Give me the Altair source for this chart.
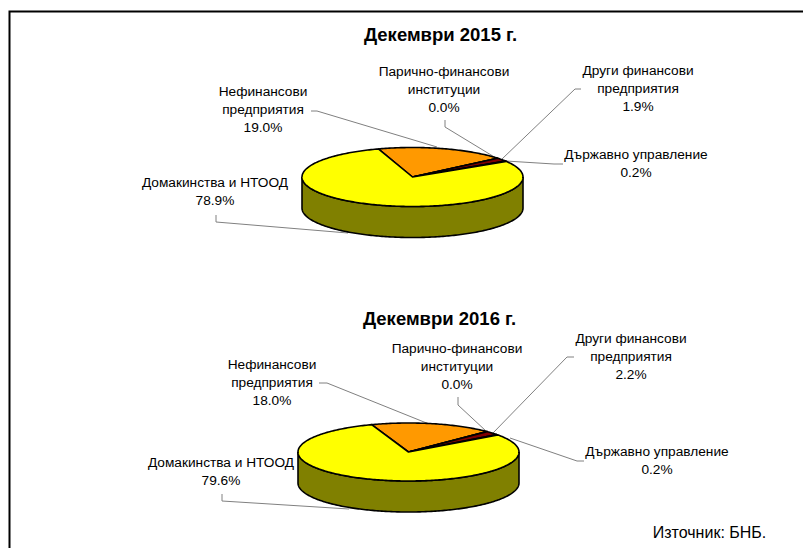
import math
import altair as alt
import pandas as pd

CATEGORIES = ["Нефинансови предприятия", "Парично-финансови институции",
              "Други финансови предприятия", "Държавно управление", "Домакинства и НТООД"]
SHARES_2015 = [19.0, 0.0, 1.9, 0.2, 78.9]
SHARES_2016 = [18.0, 0.0, 2.2, 0.2, 79.6]
COLORS = ["#FF9900", "#000080", "#800000", "#000000", "#FFFF00"]
SIDE = "#808000"
LABELS = ["Нефинансови\nпредприятия\n{}%", "Парично-финансови\nинституции\n{}%",
          "Други финансови\nпредприятия\n{}%", "Държавно управление\n{}%",
          "Домакинства и НТООД\n{}%"]

OX, OY = 8, 8  # page margin

PIES = [
    dict(title="Декември 2015 г.", shares=SHARES_2015, cx=412.5, cy=177, rx=110.5, ry=29.5, depth=31, start=-18,
         title_xy=(440.5, 34.5),
         label_xy=[(263, 92), (444, 72), (638, 71), (636, 155), (215, 183)],
         leaders=[[(311, 111), (317, 111), (437, 147)],
                  [(445, 120), (445, 127), (496, 158)],
                  [(581, 89), (575, 89), (502, 159)],
                  [(563, 164), (554, 164), (506, 161)],
                  [(216, 215), (216, 222), (348, 233)]]),
    dict(title="Декември 2016 г.", shares=SHARES_2016, cx=408.5, cy=452, rx=110.5, ry=29, depth=31, start=-19.5,
         title_xy=(439.5, 318.5),
         label_xy=[(272, 365), (457, 349), (631, 339), (657, 452), (221, 463)],
         leaders=[[(319, 383), (327, 383), (429, 424)],
                  [(458, 397), (458, 405), (486, 431)],
                  [(574, 357), (567, 357), (493, 433)],
                  [(584, 461), (577, 461), (510, 438)],
                  [(222, 494), (222, 501), (349, 509)]]),
]


def rim(p, deg, dy=0):
    a = math.radians(deg)
    return [p["cx"] + p["rx"] * math.sin(a) - OX, p["cy"] - p["ry"] * math.cos(a) + dy - OY]


def poly(points, **props):
    return {"type": "Feature", "properties": props,
            "geometry": {"type": "Polygon", "coordinates": [points + [points[0]]]}}


def path(points):
    return {"type": "Feature", "properties": {},
            "geometry": {"type": "LineString",
                         "coordinates": [[x - OX, y - OY] for x, y in points]}}


side_feats, slice_feats, leader_feats, text_rows = [], [], [], []
for p in PIES:
    top = [rim(p, d) for d in range(90, 271)]
    bottom = [rim(p, d, p["depth"]) for d in range(270, 89, -1)]
    side_feats.append(poly(top + bottom))
    angle = p["start"]
    for name, share in zip(CATEGORIES, p["shares"]):
        end = angle + share * 3.6
        n = max(2, int(abs(end - angle)) + 2)
        arc = [rim(p, angle + (end - angle) * i / (n - 1)) for i in range(n)]
        slice_feats.append(poly([[p["cx"] - OX, p["cy"] - OY]] + arc, slice=name))
        angle = end
    leader_feats += [path(l) for l in p["leaders"]]
    for tmpl, share, (x, y) in zip(LABELS, p["shares"], p["label_xy"]):
        text_rows.append({"lon": x - OX, "lat": y - OY, "t": tmpl.format(f"{share:.1f}")})

titles = pd.DataFrame([{"lon": p["title_xy"][0] - OX, "lat": p["title_xy"][1] - OY, "t": p["title"]} for p in PIES])
source = pd.DataFrame([{"lon": 709.5 - OX, "lat": 532.5 - OY, "t": "Източник: БНБ."}])
labels = pd.DataFrame(text_rows)
frame = [path([(9.5, 548), (9.5, 11.5), (803, 11.5)])]

PROJ = dict(type="identity", scale=1, translate=[0, 0])
FONT = "Liberation Sans"

side = alt.Chart(alt.Data(values=side_feats)).mark_geoshape(fill=SIDE, stroke="black", strokeWidth=1.6).project(**PROJ)
slices = alt.Chart(alt.Data(values=slice_feats)).mark_geoshape(stroke="black", strokeWidth=1.6, strokeJoin="round").encode(
    fill=alt.Fill("properties.slice:N", scale=alt.Scale(domain=CATEGORIES, range=COLORS), legend=None)
).project(**PROJ)
leaders = alt.Chart(alt.Data(values=leader_feats)).mark_geoshape(filled=False, stroke="#808080", strokeWidth=1).project(**PROJ)
border = alt.Chart(alt.Data(values=frame)).mark_geoshape(filled=False, stroke="#000000", strokeWidth=2).project(**PROJ)


def text_layer(df, size, weight="normal", line_height=18):
    return alt.Chart(df).mark_text(font=FONT, fontSize=size, fontWeight=weight, color="#000000",
                                   align="center", baseline="middle", lineBreak="\n",
                                   lineHeight=line_height).encode(
        longitude="lon:Q", latitude="lat:Q", text="t:N").project(**PROJ)


chart = alt.layer(
    border, leaders, side, slices,
    text_layer(labels, 13.7),
    text_layer(titles, 18.5, "bold"),
    text_layer(source, 16),
).properties(width=795, height=540, padding=0, background="white").configure_view(stroke=None)

chart.save("out.html", embed_options={"renderer": "svg", "actions": False})
